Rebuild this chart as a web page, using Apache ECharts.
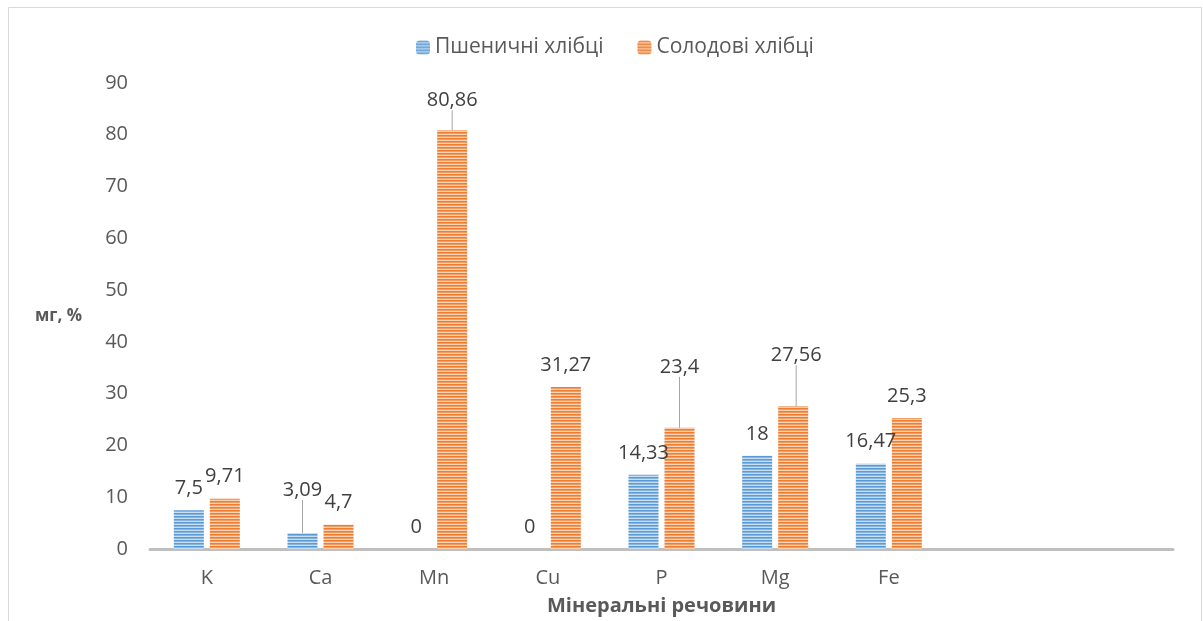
<!DOCTYPE html>
<html>
<head>
<meta charset="utf-8">
<script src="https://cdn.jsdelivr.net/npm/echarts@6/dist/echarts.min.js"></script>
<style>html,body{margin:0;padding:0;background:#fff}#c{width:1203px;height:621px}</style>
</head>
<body>
<div id="c"></div>
<script>
const categories = ['K', 'Ca', 'Mn', 'Cu', 'P', 'Mg', 'Fe', '', ''];
const wheatValues = [7.5, 3.09, 0, 0, 14.33, 18, 16.47];
const maltValues = [9.71, 4.7, 80.86, 31.27, 23.4, 27.56, 25.3];
const seriesNames = ['Пшеничні хлібці', 'Солодові хлібці'];
const yTicks = { min: 0, max: 90, interval: 10 };

// label displacement (styling), keyed by series-dataIndex
const moved = { '0-1': [0, -21], '1-2': [0, -8], '1-4': [0, -39], '1-5': [3, -29] };

function stripe(c1, c2, c3) {
  const cv = document.createElement('canvas');
  cv.width = 4; cv.height = 3;
  const ctx = cv.getContext('2d');
  ctx.fillStyle = c1; ctx.fillRect(0, 0, 4, 1);
  ctx.fillStyle = c2; ctx.fillRect(0, 1, 4, 1);
  ctx.fillStyle = c3; ctx.fillRect(0, 2, 4, 1);
  return { image: cv, repeat: 'repeat' };
}
const bluePat = stripe('#5B9BD5', '#86B5E1', '#C9DEF2');
const orangePat = stripe('#ED7D31', '#F29C62', '#FAD2B6');

const font = 'Open Sans';
function mkData(vals, si) {
  return vals.map((v, i) => moved[si + '-' + i] ? { value: v, labelLine: { show: true } } : v);
}
const labelCfg = {
  show: true, position: 'top', distance: 12, color: '#404040', fontSize: 20, fontFamily: font,
  formatter: p => String(p.value).replace('.', ',')
};
const chart = echarts.init(document.getElementById('c'));
chart.setOption({
  animation: false,
  backgroundColor: '#fff',
  graphic: [{ type: 'rect', shape: { x: 8.5, y: 7.5, width: 1193, height: 630 }, style: { fill: 'none', stroke: '#D9D9D9', lineWidth: 1 }, silent: true }],
  legend: {
    top: 32, left: 411, itemWidth: 14, itemHeight: 14, itemGap: 34,
    textStyle: { fontSize: 21, color: '#595959', fontFamily: font },
    data: seriesNames
  },
  grid: { left: 150, right: 30, top: 83, bottom: 72, containLabel: false },
  xAxis: {
    type: 'category', data: categories,
    axisLine: { lineStyle: { color: '#BFBFBF', width: 3 } },
    axisTick: { show: false },
    axisLabel: { color: '#595959', fontSize: 20, fontFamily: font, margin: 19 },
    name: 'Мінеральні речовини', nameLocation: 'middle', nameGap: 47,
    nameTextStyle: { fontWeight: 'bold', fontSize: 20, color: '#595959', fontFamily: font }
  },
  yAxis: {
    type: 'value', min: yTicks.min, max: yTicks.max, interval: yTicks.interval,
    splitLine: { show: false }, axisLine: { show: false }, axisTick: { show: false },
    axisLabel: { color: '#595959', fontSize: 20, fontFamily: font, margin: 22 },
    name: 'мг, %', nameLocation: 'middle', nameRotate: 0, nameGap: 68,
    nameTextStyle: { fontWeight: 'bold', fontSize: 17, color: '#595959', fontFamily: font, align: 'right', padding: [12, 0, 0, 0] }
  },
  series: [
    { name: seriesNames[0], type: 'bar', data: mkData(wheatValues, 0), barWidth: 30, barGap: '20%',
      itemStyle: { color: bluePat }, label: labelCfg,
      labelLine: { show: false, lineStyle: { color: '#A6A6A6', width: 1 } } },
    { name: seriesNames[1], type: 'bar', data: mkData(maltValues, 1), barWidth: 30, barGap: '20%',
      itemStyle: { color: orangePat }, label: labelCfg,
      labelLine: { show: false, lineStyle: { color: '#A6A6A6', width: 1 } } }
  ],
  labelLayout: p => { const m = moved[p.seriesIndex + '-' + p.dataIndex]; return m ? { dx: m[0], dy: m[1] } : {}; }
});
</script>
</body>
</html>
